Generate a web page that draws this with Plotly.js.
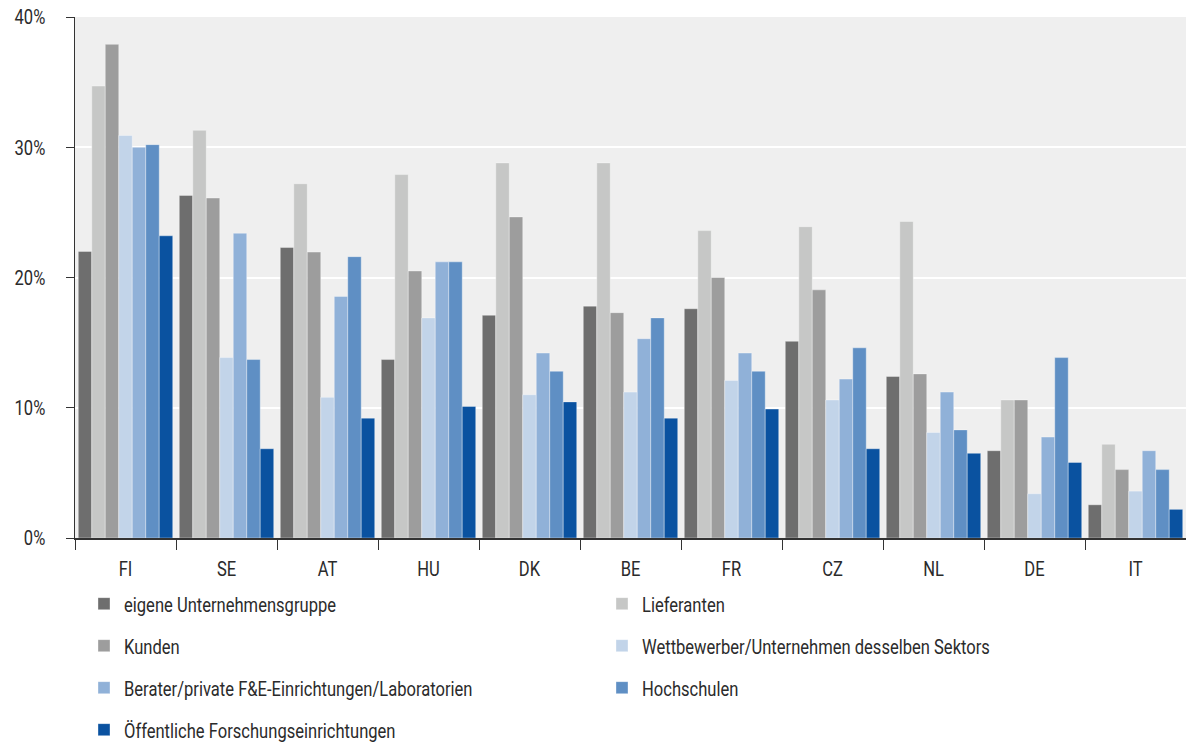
<!DOCTYPE html>
<html>
<head>
<meta charset="utf-8">
<script src="https://cdn.plot.ly/plotly-3.0.1.min.js"></script>
<style>
html,body{margin:0;padding:0;background:#fff;}
#chart{width:1186px;height:742px;}
</style>
</head>
<body>
<div id="chart"></div>
<script>
const countries = ["FI","SE","AT","HU","DK","BE","FR","CZ","NL","DE","IT"];
const seriesNames = [
  "eigene Unternehmensgruppe",
  "Lieferanten",
  "Kunden",
  "Wettbewerber/Unternehmen desselben Sektors",
  "Berater/private F&E-Einrichtungen/Laboratorien",
  "Hochschulen",
  "Öffentliche Forschungseinrichtungen"
];
const eigene       = [22.0, 26.3, 22.3, 13.7, 17.1, 17.8, 17.6, 15.1, 12.4,  6.7, 2.55];
const lieferanten  = [34.7, 31.3, 27.2, 27.9, 28.8, 28.8, 23.6, 23.9, 24.3, 10.6, 7.2];
const kunden       = [37.9, 26.1, 21.95,20.5, 24.65,17.3, 20.0, 19.05,12.6, 10.6, 5.25];
const wettbewerber = [30.9, 13.85,10.8, 16.9, 11.0, 11.2, 12.1, 10.6,  8.1,  3.4, 3.6];
const berater      = [30.0, 23.4, 18.55,21.2, 14.2, 15.3, 14.2, 12.2, 11.2,  7.75,6.7];
const hochschulen  = [30.2, 13.7, 21.6, 21.2, 12.8, 16.9, 12.8, 14.6,  8.3, 13.85,5.25];
const oeffentliche = [23.2,  6.85, 9.2, 10.1, 10.45, 9.2,  9.9,  6.85, 6.5,  5.8, 2.2];
const yTickVals = [0, 10, 20, 30, 40];
const yTickText = ["0%", "10%", "20%", "30%", "40%"];

const seriesValues = [eigene, lieferanten, kunden, wettbewerber, berater, hochschulen, oeffentliche];
const colors = ["#6e6e6e", "#c6c7c6", "#9d9d9d", "#c2d4e9", "#90b1d8", "#5f8fc4", "#0a52a0"];
const legendIds = ["legend", "legend", "legend2", "legend2", "legend3", "legend3", "legend4"];

const FONT = "Roboto, 'Liberation Sans', sans-serif";
const FS = 21;
const TARGET_W = 212; // reference width of "eigene Unternehmensgruppe"

// horizontal condensing factor for the narrow typeface of the reference
const mctx = document.createElement("canvas").getContext("2d");
mctx.font = FS + "px Roboto, 'Liberation Sans', sans-serif";
let factor = TARGET_W / mctx.measureText(seriesNames[0]).width;
if (!isFinite(factor) || factor <= 0 || factor > 1) factor = 0.82;

const traces = seriesNames.map((name, i) => ({
  type: "bar",
  name: name,
  x: countries,
  y: seriesValues[i],
  legend: legendIds[i],
  marker: {color: colors[i], line: {color: "rgba(255,255,255,0.35)", width: 1}},
  hoverinfo: "x+y+name"
}));

const legendBase = {
  orientation: "h",
  xanchor: "left",
  yanchor: "middle",
  x: 0.0081,
  entrywidth: 473,
  entrywidthmode: "pixels",
  bgcolor: "rgba(0,0,0,0)",
  font: {family: FONT, size: FS, color: "#2b2b2b"},
  traceorder: "normal"
};
function rowY(px) { return (538 - px) / 521; }

const layout = {
  width: 1186,
  height: 742,
  margin: {l: 75, r: 0, t: 17, b: 204, pad: 0, autoexpand: false},
  paper_bgcolor: "#ffffff",
  plot_bgcolor: "#efefef",
  barmode: "group",
  bargap: 0.065,
  bargroupgap: 0,
  font: {family: FONT, size: FS, color: "#2b2b2b"},
  showlegend: true,
  xaxis: {
    type: "category",
    showgrid: false,
    showline: true,
    linecolor: "#333333",
    linewidth: 1.5,
    ticks: "outside",
    tickson: "boundaries",
    ticklen: 10,
    tickcolor: "#333333",
    tickwidth: 1,
    tickfont: {family: FONT, size: FS, color: "#2b2b2b"},
    ticklabelstandoff: 11,
    automargin: false,
    fixedrange: true
  },
  yaxis: {
    range: [0, 40],
    tickvals: yTickVals,
    ticktext: yTickText,
    showgrid: true,
    gridcolor: "#ffffff",
    gridwidth: 2,
    zeroline: false,
    showline: true,
    linecolor: "#333333",
    linewidth: 1.5,
    ticks: "outside",
    ticklen: 8,
    tickcolor: "#333333",
    tickwidth: 1,
    tickfont: {family: FONT, size: FS, color: "#2b2b2b"},
    ticklabelstandoff: 16,
    automargin: false,
    fixedrange: true
  },
  legend:  Object.assign({}, legendBase, {y: rowY(604)}),
  legend2: Object.assign({}, legendBase, {y: rowY(646)}),
  legend3: Object.assign({}, legendBase, {y: rowY(688)}),
  legend4: Object.assign({}, legendBase, {y: rowY(730)})
};

// condense all chart texts with textLength (keeps each text's anchor)
const SEL = ".xtick text, .ytick text, g.legend text, g.legend2 text, g.legend3 text, g.legend4 text, text.legendtext";
function condense(root) {
  root.querySelectorAll(SEL).forEach(t => {
    if (t.hasAttribute("textLength")) return;
    const w = t.getComputedTextLength();
    if (w > 0) {
      t.setAttribute("textLength", (w * factor).toFixed(2));
      t.setAttribute("lengthAdjust", "spacingAndGlyphs");
    }
  });
}

const gdEl = document.getElementById("chart");
const obs = new MutationObserver(() => condense(gdEl));
obs.observe(gdEl, {childList: true, subtree: true});
Plotly.newPlot(gdEl, traces, layout, {displayModeBar: false, staticPlot: true}).then(gd => {
  condense(gd);
  setTimeout(() => condense(gd), 30);
});
</script>
</body>
</html>
